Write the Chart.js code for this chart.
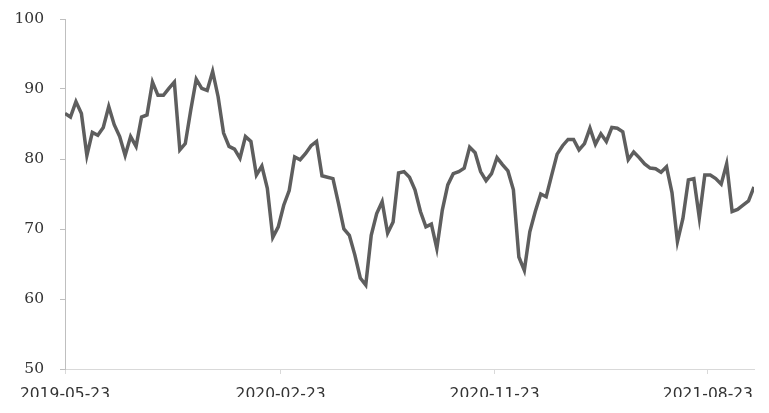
<!DOCTYPE html>
<html>
<head>
<meta charset="utf-8">
<script src="https://cdn.jsdelivr.net/npm/chart.js@4"></script>
<style>
    html, body { margin: 0; padding: 0; background: #fff; }
    #wrap { width: 769px; height: 413px; overflow: hidden; background: #fff; }
    canvas { display: block; }
</style>
</head>
<body>
<div id="wrap"><canvas id="indexChart" width="769" height="397"></canvas></div>
<script>
// weekly readings, first one on startDate
const startDate = '2019-05-23';
const values = [
    86.5, 86.0, 88.2, 86.5, 80.5, 83.8, 83.4, 84.5, 87.5, 84.9,
    83.2, 80.5, 83.2, 81.8, 86.0, 86.3, 91.0, 89.1, 89.1, 90.1,
    91.0, 81.3, 82.2, 87.0, 91.4, 90.1, 89.8, 92.5, 88.9, 83.7,
    81.8, 81.4, 80.1, 83.2, 82.5, 77.7, 79.0, 75.8, 68.8, 70.3,
    73.4, 75.5, 80.3, 79.9, 80.8, 81.9, 82.5, 77.6, 77.4, 77.2,
    73.7, 70.0, 69.1, 66.3, 63.0, 62.0, 69.1, 72.2, 73.9, 69.4,
    71.0, 78.0, 78.2, 77.4, 75.6, 72.5, 70.3, 70.7, 67.2, 72.7,
    76.3, 77.9, 78.2, 78.7, 81.7, 80.9, 78.2, 76.9, 77.9, 80.2,
    79.2, 78.3, 75.6, 66.0, 64.1, 69.6, 72.5, 75.0, 74.6, 77.7,
    80.7, 81.9, 82.8, 82.8, 81.3, 82.2, 84.4, 82.1, 83.6, 82.5,
    84.5, 84.4, 83.9, 79.9, 81.0, 80.2, 79.3, 78.7, 78.6, 78.1,
    78.9, 75.2, 68.2, 71.5, 77.0, 77.2, 71.6, 77.7, 77.7, 77.2,
    76.4, 79.3, 72.5, 72.8, 73.4, 74.0, 76.0
];
const tickDates = ['2019-05-23', '2020-02-23', '2020-11-23', '2021-08-23'];
const yTicks = [50, 60, 70, 80, 90, 100];

const DAY = 24 * 3600 * 1000;
const weeksFromStart = d => (Date.parse(d) - Date.parse(startDate)) / DAY / 7;

const points = values.map((v, i) => ({ x: i, y: v }));

new Chart(document.getElementById('indexChart').getContext('2d'), {
    type: 'line',
    data: {
        datasets: [{
            data: points,
            borderColor: '#5e5e5e',
            borderWidth: 3.5,
            pointRadius: 0,
            tension: 0,
            fill: false
        }]
    },
    options: {
        responsive: false,
        animation: false,
        layout: { padding: { left: 0, right: 15, top: 19, bottom: 0 } },
        plugins: { legend: { display: false }, tooltip: { enabled: false } },
        scales: {
            x: {
                type: 'linear',
                min: 0,
                max: values.length - 1,
                afterBuildTicks: scale => {
                    scale.ticks = tickDates.map(d => ({ value: weeksFromStart(d) }));
                },
                afterFit: scale => { scale.height = 28; },
                grid: { drawOnChartArea: false, tickLength: 5, color: '#d9d9d9' },
                border: { color: '#d9d9d9', width: 1 },
                ticks: {
                    autoSkip: false,
                    maxRotation: 0,
                    padding: 12,
                    color: '#333',
                    font: { family: 'DejaVu Sans', size: 15.5 },
                    callback: (val, idx) => tickDates[idx]
                }
            },
            y: {
                min: 50,
                max: 100,
                afterBuildTicks: scale => {
                    scale.ticks = yTicks.map(v => ({ value: v }));
                },
                afterFit: scale => {
                    scale.width = 65;
                    scale.paddingTop = 0;
                    scale.paddingBottom = 0;
                },
                grid: { drawOnChartArea: false, tickLength: 5, color: '#bfbfbf' },
                border: { color: '#bfbfbf', width: 1 },
                ticks: {
                    padding: 16,
                    color: '#333',
                    font: { family: 'DejaVu Serif', size: 15.5 }
                }
            }
        }
    }
});
</script>
</body>
</html>
